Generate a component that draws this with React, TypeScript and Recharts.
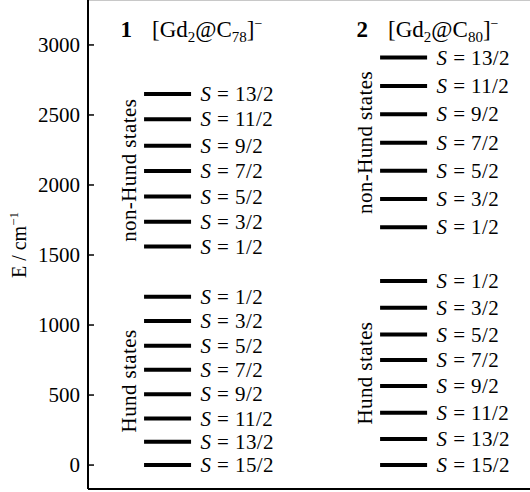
import React from "react"
import { ComposedChart, Scatter, XAxis, YAxis, ReferenceLine } from "recharts"

// energy levels in cm^-1
const hundSpins = ["15/2", "13/2", "11/2", "9/2", "7/2", "5/2", "3/2", "1/2"]
const nonHundSpins = ["1/2", "3/2", "5/2", "7/2", "9/2", "11/2", "13/2"]

const gd78Hund = [0, 166, 333, 506, 680, 852, 1028, 1202]
const gd78NonHund = [1560, 1738, 1917, 2100, 2281, 2469, 2650]
const gd80Hund = [0, 186, 374, 564, 750, 933, 1124, 1314]
const gd80NonHund = [1698, 1900, 2102, 2302, 2505, 2707, 2910]

const columnX = [18, 71.4]
const columnTitles = [
  { num: "1", cage: "78" },
  { num: "2", cage: "80" },
]
const titleE = 3060
const yTicks = [0, 500, 1000, 1500, 2000, 2500, 3000]

const FONT = "Liberation Serif"

const levels = [
  ...gd78Hund.map((e, i) => ({ x: columnX[0], y: e, s: hundSpins[i] })),
  ...gd78NonHund.map((e, i) => ({ x: columnX[0], y: e, s: nonHundSpins[i] })),
  ...gd80Hund.map((e, i) => ({ x: columnX[1], y: e, s: hundSpins[i] })),
  ...gd80NonHund.map((e, i) => ({ x: columnX[1], y: e, s: nonHundSpins[i] })),
]

const mid = (arr: number[]) => (Math.min(...arr) + Math.max(...arr)) / 2
const groups = [
  { x: columnX[0], y: mid(gd78Hund), text: "Hund states" },
  { x: columnX[0], y: mid(gd78NonHund), text: "non-Hund states" },
  { x: columnX[1], y: mid(gd80Hund), text: "Hund states" },
  { x: columnX[1], y: mid(gd80NonHund), text: "non-Hund states" },
]

const titles = columnTitles.map((t, i) => ({ x: columnX[i], y: titleE, ...t }))

const LevelShape = (props: any) => {
  const { cx, cy, payload } = props
  return (
    <g>
      <line x1={cx - 23.5} x2={cx + 23.5} y1={cy} y2={cy} stroke="#000" strokeWidth={4} />
      <text
        x={cx + 33}
        y={cy}
        dy="0.34em"
        style={{ fontFamily: FONT, letterSpacing: 0.4 }}
        fontSize={21}
        fill="#000"
      >
        <tspan fontStyle="italic">S</tspan>
        {" = " + payload.s}
      </text>
    </g>
  )
}

const GroupShape = (props: any) => {
  const { cx, cy, payload } = props
  const x = cx - 38
  return (
    <text
      x={x}
      y={cy}
      transform={`rotate(-90 ${x} ${cy})`}
      textAnchor="middle"
      dy="0.32em"
      style={{ fontFamily: FONT, letterSpacing: 0.4 }}
      fontSize={21}
      fill="#000"
    >
      {payload.text}
    </text>
  )
}

const TitleShape = (props: any) => {
  const { cx, cy, payload } = props
  return (
    <g style={{ fontFamily: FONT }} fill="#000">
      <text x={cx - 47} y={cy} fontSize={23} fontWeight="bold">
        {payload.num}
      </text>
      <text x={cx - 15.5} y={cy} fontSize={23}>
        [Gd
        <tspan fontSize={15} dy={5}>2</tspan>
        <tspan dy={-5}>@C</tspan>
        <tspan fontSize={15} dy={5}>{payload.cage}</tspan>
        <tspan dy={-5}>]</tspan>
        <tspan fontSize={14} dy={-9}>−</tspan>
      </text>
    </g>
  )
}

const YTick = (props: any) => {
  const { x, y, payload } = props
  return (
    <text x={x} y={y} dy="0.34em" textAnchor="end" style={{ fontFamily: FONT }} fontSize={21} fill="#000">
      {payload.value}
    </text>
  )
}

const YLabel = () => (
  <text
    x={20}
    y={245}
    transform="rotate(-90 20 245)"
    textAnchor="middle"
    dy="0.32em"
    style={{ fontFamily: FONT }}
    fontSize={20}
    fill="#000"
  >
    E / cm
    <tspan fontSize={13} dy={-8}>−1</tspan>
  </text>
)

export default function App() {
  return (
    <div style={{ width: 530, height: 492, background: "#fff", fontFamily: FONT }}>
      <style>{"body{margin:0}"}</style>
      <ComposedChart
        width={530}
        height={492}
        margin={{ top: 0, right: 0, bottom: 0, left: 0 }}
        style={{ fontFamily: FONT }}
      >
        <XAxis
          type="number"
          dataKey="x"
          domain={[0, 100]}
          tick={false}
          tickLine={false}
          height={3}
          axisLine={{ stroke: "#000", strokeWidth: 2 }}
        />
        <YAxis
          type="number"
          dataKey="y"
          domain={[-171, 3321]}
          ticks={yTicks}
          width={88}
          tickSize={-6}
          tickMargin={14}
          axisLine={{ stroke: "#000", strokeWidth: 2 }}
          tickLine={{ stroke: "#000", strokeWidth: 1.5 }}
          tick={<YTick />}
          label={{ content: () => <YLabel /> }}
        />
        <ReferenceLine y={3321} stroke="#c8c8c8" strokeWidth={2} />
        <Scatter data={levels} shape={LevelShape} isAnimationActive={false} />
        <Scatter data={groups} shape={GroupShape} isAnimationActive={false} />
        <Scatter data={titles} shape={TitleShape} isAnimationActive={false} />
      </ComposedChart>
    </div>
  )
}
